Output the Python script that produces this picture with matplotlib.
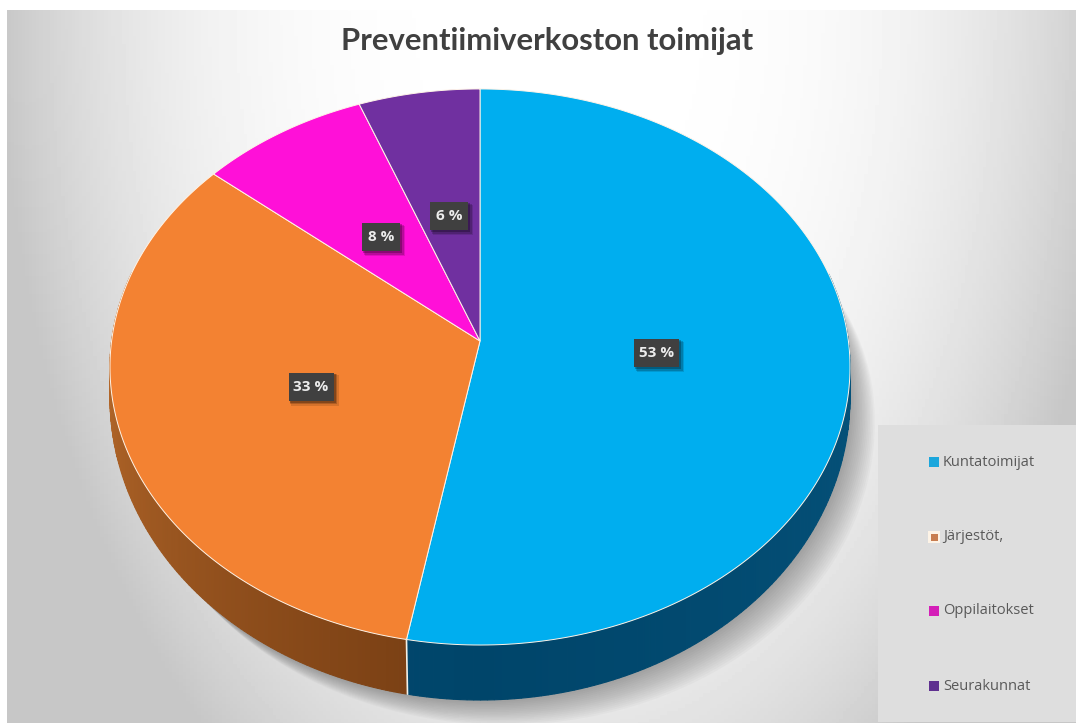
import numpy as np
import matplotlib
matplotlib.use("Agg")
import matplotlib.pyplot as plt
from matplotlib.patches import Polygon, Rectangle
from matplotlib.colors import to_rgb

# donnees
categories = ["Kuntatoimijat", "Järjestöt,", "Oppilaitokset", "Seurakunnat"]
values = [52.9, 33.2, 8.1, 5.8]
labels = ["53 %", "33 %", "8 %", "6 %"]
colors = ["#00aeef", "#f38232", "#ff10d8", "#7030a0"]
wall_light = ["#05527a", "#b5682a", "#ff10d8", "#7030a0"]
wall_dark = ["#00456a", "#743c12", "#ff10d8", "#7030a0"]
legend_colors = ["#1ba6dc", "#c87d50", "#d41fb8", "#5f3090"]

W, H = 1076, 726
cx, cy = 480, 341
A, B, k = 368.4, 275.6, 0.0935


def project(theta, r=1.0):
    # theta en radians, sens horaire depuis le haut
    s, c = r * np.sin(theta), r * np.cos(theta)
    w = 1 + k * c
    return cx + A * s / w, cy - B * c / w


def wall_depth(theta):
    # epaisseur plus faible sur les cotes
    return 28 + 27 * np.clip(-np.cos(theta), 0, 1)


fig = plt.figure(figsize=(W / 100, H / 100), dpi=100)
ax = fig.add_axes([0, 0, 1, 1])
ax.set_xlim(0, W)
ax.set_ylim(H, 0)
ax.axis("off")

# fond degrade
yy, xx = np.mgrid[0:1:200j, 0:1:300j]
dist = np.sqrt(((xx - 0.52) / 0.52) ** 2 + (yy / 1.3) ** 2)
bg = np.clip(1.0 - 0.22 * dist ** 3, 0.78, 1)
ax.imshow(bg, extent=(0, W, H, 0), cmap="gray", vmin=0, vmax=1, aspect="auto", zorder=0)

theta_all = np.linspace(0, 2 * np.pi, 721)
ox, oy = project(theta_all)
oy_low = oy + wall_depth(theta_all)

# ombre
for i in range(16):
    shift = 1 + i * 2.0
    ax.fill(ox + shift * 0.8, oy_low + shift * 0.8, color="#505050", alpha=0.035, lw=0, zorder=1)

# panneau legende
ax.add_patch(Rectangle((878, 425), W - 878, 297, fc="#dedede", ec="none", zorder=1.5))

# parois puis faces
edges = np.cumsum([0] + values) / np.sum(values) * 2 * np.pi
for i in range(len(values)):
    t = np.linspace(edges[i], edges[i + 1], 200)
    x, y = project(t)
    d = wall_depth(t)
    for j in range(len(t) - 1):
        if np.cos(t[j]) > 0.25:
            continue
        f = min(abs(t[j] - np.pi) / (np.pi / 2), 1)
        col = np.array(to_rgb(wall_dark[i])) * (1 - f) + np.array(to_rgb(wall_light[i])) * f
        quad = [(x[j], y[j]), (x[j + 1], y[j + 1]), (x[j + 1], y[j + 1] + d[j + 1]), (x[j], y[j] + d[j])]
        ax.add_patch(Polygon(quad, fc=col, ec=col, lw=0.8, zorder=2))

for i in range(len(values)):
    t = np.linspace(edges[i], edges[i + 1], 200)
    x, y = project(t)
    pts = np.column_stack([np.r_[cx, x], np.r_[cy, y]])
    ax.add_patch(Polygon(pts, fc=colors[i], ec="#fff4e8", lw=0.7, zorder=3))

# arete verticale entre bleu et orange
ex, ey = project(edges[1])
ax.plot([ex, ex + 1], [ey, ey + wall_depth(edges[1])], color="#f2efe6", lw=1.2, zorder=3)

# etiquettes
mids = (edges[:-1] + edges[1:]) / 2
for i in range(len(values)):
    lx, ly = project(mids[i], 0.48)
    bw = 45 if len(labels[i]) > 3 else 38
    bh = 28
    for off, al in [(5, 0.12), (3.5, 0.18), (2, 0.25)]:
        ax.add_patch(Rectangle((lx - bw / 2 + off / 2, ly - bh / 2 + off / 2), bw + off / 2, bh + off / 2,
                               fc="#000000", ec="none", alpha=al, zorder=4))
    ax.add_patch(Rectangle((lx - bw / 2, ly - bh / 2), bw, bh, fc="#404040", ec="none", zorder=4.5))
    ax.text(lx, ly, labels[i], fontsize=11, family="Open Sans", fontweight="bold", color="#ececec",
            ha="center", va="center", zorder=5)

# titre
ax.text(547, 50, "Preventiimiverkoston toimijat", fontsize=22.3, family="Lato", fontweight="bold",
        color="#404040", ha="center", va="baseline", zorder=5)

# legende
leg_y = [462, 537, 611, 686]
for name, col, ly in zip(categories, legend_colors, leg_y):
    if name.startswith("J"):
        ax.add_patch(Rectangle((928, ly - 6), 12, 12, fc="#fdf3e6", ec="none", zorder=4.9))
        ax.add_patch(Rectangle((931, ly - 3), 7, 7, fc=col, ec="none", zorder=5))
    else:
        ax.add_patch(Rectangle((929, ly - 5), 10, 10, fc=col, ec="none", zorder=5))
    ax.text(943, ly, name, fontsize=10.5, family="Open Sans", color="#595959", ha="left", va="center", zorder=5)

# marges blanches de la capture
ax.add_patch(Rectangle((0, 0), 7, H, fc="white", ec="none", zorder=6))
ax.add_patch(Rectangle((0, 0), W, 10, fc="white", ec="none", zorder=6))
ax.add_patch(Rectangle((0, 723), W, 3, fc="white", ec="none", zorder=6))

fig.savefig("out.png", dpi=100)
